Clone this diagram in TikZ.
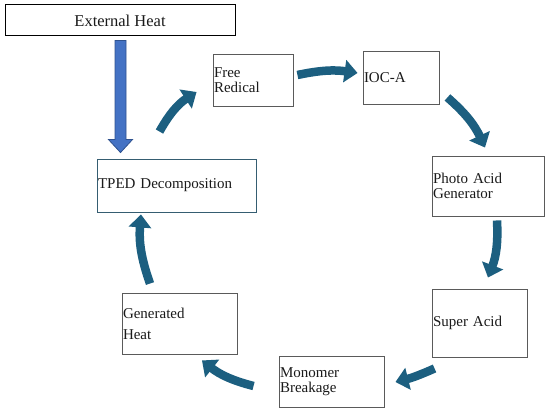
\documentclass[tikz,border=0pt]{standalone}
\usepackage{fontspec}
\setmainfont{Liberation Serif}
\usetikzlibrary{arrows.meta, positioning, calc}
\definecolor{cycleTeal}{HTML}{1C5F80}
\definecolor{heatBlue}{HTML}{4472C4}
\definecolor{heatEdge}{HTML}{2F528F}
\definecolor{boxGray}{HTML}{5A5A5A}
\definecolor{textDark}{HTML}{1A1A1A}

\begin{document}
\begin{tikzpicture}[x=1pt, y=-1pt,
    stage/.style={rectangle, draw=boxGray, line width=0.9pt, fill=white,
                  minimum width=#1, inner xsep=1pt, inner ysep=0pt,
                  text width=#1-2pt, align=left,
                  font=\fontsize{15}{15}\selectfont\color{textDark}},
    flow/.style={draw=cycleTeal, line width=8.5pt,
                 -{Triangle[width=22pt, length=13pt]}},
    heat/.style={draw=heatEdge, line width=0.8pt, fill=heatBlue},
  ]
    \useasboundingbox (0,0) rectangle (550,412);

    \node[rectangle, draw=black, line width=1pt, minimum width=230pt,
          minimum height=31pt, font=\fontsize{16.5}{16.5}\selectfont\color{textDark}]
          (ext) at (120,20.5) {External Heat};

    \node[stage=80pt, minimum height=52pt] (free) at (253,80) {Free\\Redical};
    \node[stage=76pt, minimum height=53pt] (ioc) at (401,77.5) {IOC-A};
    \node[stage=112pt, minimum height=60pt] (pag) at (488,186) {Photo Acid\\Generator};
    \node[stage=95pt, minimum height=68pt] (super) at (479.5,323) {Super Acid};
    \node[stage=105pt, minimum height=51pt] (mono) at (331.5,381.5) {Monomer\\Breakage};
    \node[stage=115pt, minimum height=61pt] (gen) at (179.5,323.5) {Generated\\[6pt]Heat};
    \node[stage=159pt, minimum height=53pt, draw=cycleTeal!60!boxGray] (tped) at (176.5,185.5)
      {TPED Decomposition};

    % heat input
    \coordinate (hs) at ($(ext.south)+(0.5,4)$);
    \coordinate (ht) at ($(hs |- tped.north)+(0,-6)$);
    \draw[heat] ($(hs)+(-5.5,0)$) -- ($(hs)+(5.5,0)$) -- ($(ht)+(5.5,-13)$)
      -- ($(ht)+(12,-13)$) -- (ht) -- ($(ht)+(-12,-13)$)
      -- ($(ht)+(-5.5,-13)$) -- cycle;

    % reaction cycle
    \draw[flow] ($(tped.north)+(-17,-27)$) to[bend left=14] ($(free.west)+(-16,12)$);
    \draw[flow] ($(free.east)+(4,-5)$) to[bend left=10] ($(ioc.west)+(-5,-4.5)$);
    \draw[flow] ($(ioc.south east)+(8,-7)$) to[bend left=12] ($(pag.north)+(-3,-8)$);
    \draw[flow] ($(pag.south)+(9,4)$) to[bend left=12] ($(super.north)+(8.5,-11)$);
    \draw[flow] ($(super.south west)+(3,11)$) to[bend left=5] ($(mono.east)+(11,0.5)$);
    \draw[flow] ($(mono.west)+(-25,4.5)$) to[bend left=12] ($(gen.south)+(22.5,6)$);
    \draw[flow] ($(gen.north)+(-29.5,-9)$) to[bend left=12] ($(tped.south)+(-35.5,2)$);
  \end{tikzpicture}
\end{document}
